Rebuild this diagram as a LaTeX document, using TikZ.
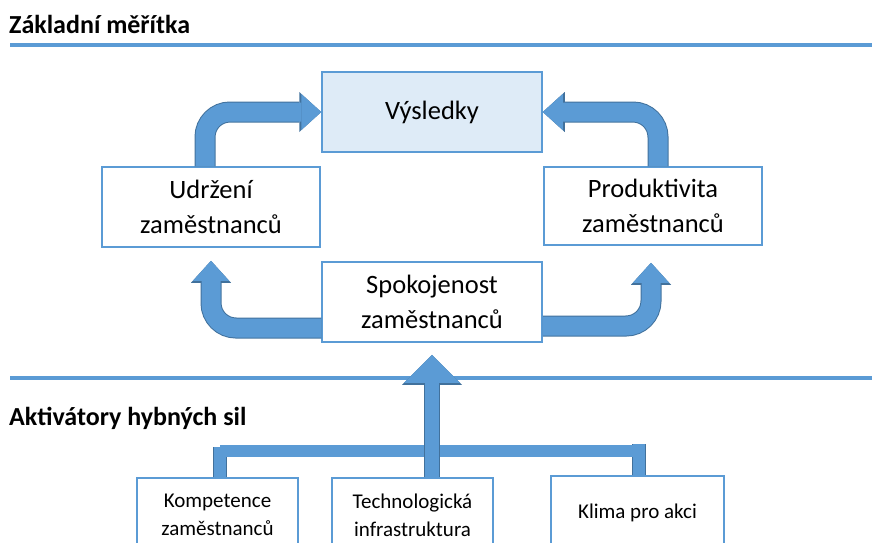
\documentclass[tikz,border=0pt]{standalone}
\usepackage{fontspec}
\setmainfont{Carlito}
\usetikzlibrary{arrows.meta}
\definecolor{boxblue}{HTML}{5B9BD5}
\definecolor{lightfill}{HTML}{DEEBF7}
\definecolor{darkblue}{HTML}{41719C}

\begin{document}
\begin{tikzpicture}[x=1pt,y=-1pt,
  box/.style={draw=boxblue, line width=1.5pt, fill=white, minimum width=218pt, minimum height=80pt,
    align=center, inner sep=0pt, font=\fontsize{26.5}{35}\selectfont},
  smallbox/.style={box, minimum width=161pt, minimum height=74pt, font=\fontsize{21}{28}\selectfont},
  heading/.style={anchor=west, inner sep=0pt, font=\fontsize{26}{30}\selectfont\bfseries},
  rule/.style={draw=boxblue, line width=4pt},
  bigarrow/.style={draw=boxblue, line width=19pt, rounded corners=25pt,
    -{Triangle[width=36pt,length=20pt,line width=0pt]},
    preaction={draw=darkblue, line width=21pt, -{Triangle[width=40pt,length=22pt,line width=0pt]}}},
  uparrow/.style={draw=boxblue, line width=14pt,
    -{Triangle[width=56pt,length=28pt,line width=0pt]},
    preaction={draw=darkblue, line width=16pt, -{Triangle[width=60pt,length=30pt,line width=0pt]}}},
  tab/.style={draw=boxblue, line width=12pt, preaction={draw=darkblue, line width=14pt}},
  barline/.style={draw=boxblue, line width=12pt}]
\useasboundingbox (0,0) rectangle (872,542);

\node[heading] (meritka) at (9,24) {Základní měřítka};
\draw[rule] (10,45) -- (872,45);

\node[box, fill=lightfill, minimum width=220pt] (vysl) at (432,112) {Výsledky};
\node[box] (udrz) at (211,207) {Udržení\\zaměstnanců};
\node[box, minimum height=78pt] (prod) at (653,206) {Produktivita\\zaměstnanců};
\node[box, minimum width=220pt] (spok) at (432,302) {Spokojenost\\zaměstnanců};

\draw[bigarrow] ([xshift=-6pt]udrz.north) |- (vysl.west);
\draw[bigarrow] ([xshift=5pt]prod.north) |- (vysl.east);
\draw[bigarrow, shorten >=13pt] ([yshift=-26pt]spok.west) -| (udrz.south);
\draw[bigarrow, shorten >=17pt] ([yshift=-24pt]spok.east) -| ([xshift=-2pt]prod.south);

\draw[rule] (10,378) -- (872,378);
\node[heading] (aktiv) at (9,418) {Aktivátory hybných sil};

\node[smallbox] (komp) at (217.5,515) {Kompetence\\zaměstnanců};
\node[smallbox] (tech) at (412.5,515) {Technologická\\infrastruktura};
\node[smallbox, minimum width=173pt] (klima) at (637.5,513) {Klima pro akci};

\coordinate (ltab) at (220,447);
\coordinate (rtab) at (639,444);
\draw[tab] ([xshift=2.5pt]komp.north) -- (ltab);
\draw[tab] ([xshift=1.5pt]klima.north) -- (rtab);
\draw[barline] ([yshift=-4pt]ltab) -- ([yshift=-7pt]rtab);
\draw[uparrow, shorten >=12pt] (tech.north -| spok.south) -- (spok.south);
\end{tikzpicture}
\end{document}
